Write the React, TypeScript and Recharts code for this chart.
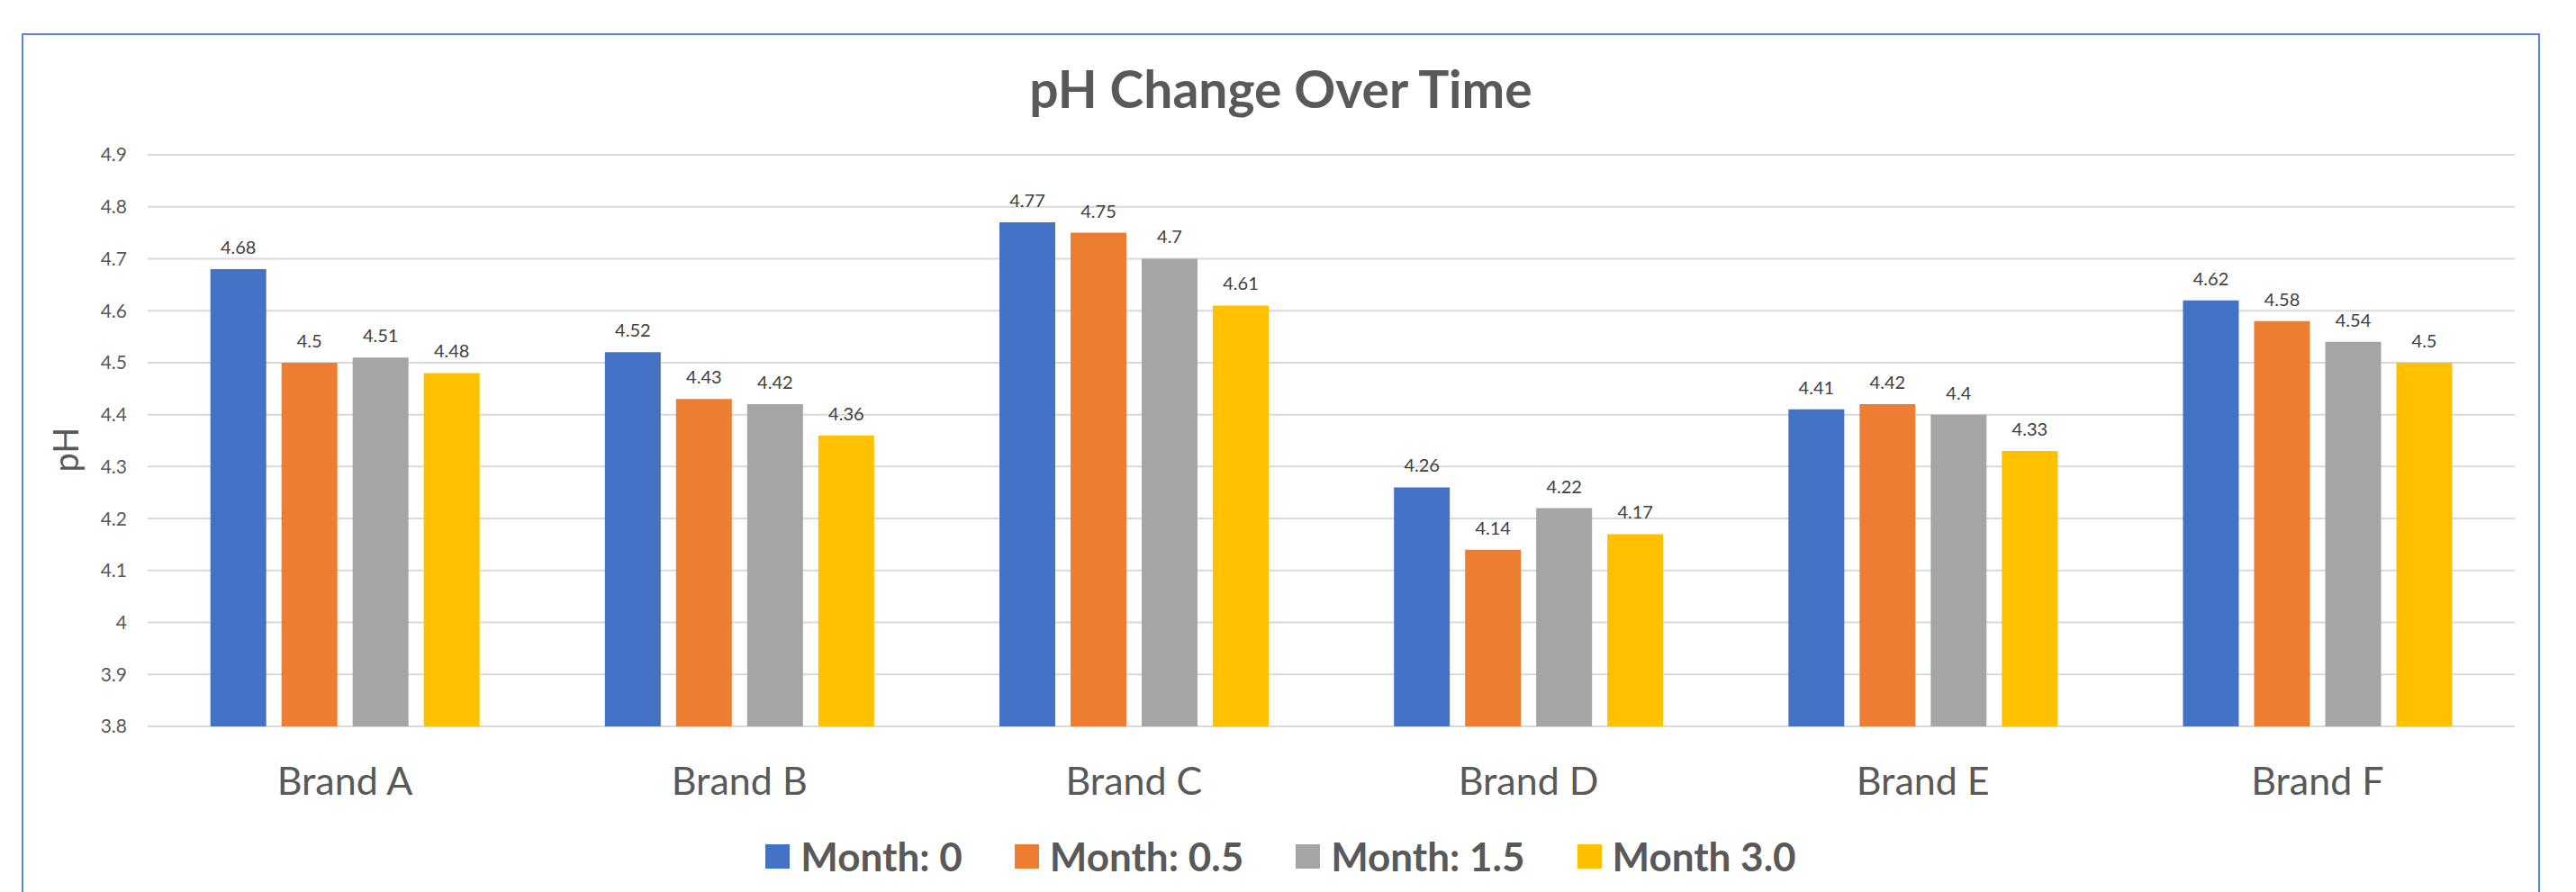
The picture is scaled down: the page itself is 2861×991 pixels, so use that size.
import { BarChart, Bar, XAxis, YAxis, CartesianGrid, LabelList } from "recharts";

const brands = ["Brand A", "Brand B", "Brand C", "Brand D", "Brand E", "Brand F"];
const month0 = [4.68, 4.52, 4.77, 4.26, 4.41, 4.62];
const month05 = [4.5, 4.43, 4.75, 4.14, 4.42, 4.58];
const month15 = [4.51, 4.42, 4.7, 4.22, 4.4, 4.54];
const month30 = [4.48, 4.36, 4.61, 4.17, 4.33, 4.5];
const yTicks = [3.8, 3.9, 4, 4.1, 4.2, 4.3, 4.4, 4.5, 4.6, 4.7, 4.8, 4.9];

const seriesNames = ["Month: 0", "Month: 0.5", "Month: 1.5", "Month 3.0"];
const seriesKeys = ["m0", "m05", "m15", "m30"];
const seriesColors = ["#4472C4", "#ED7D31", "#A5A5A5", "#FFC000"];

const data = brands.map((b, i) => ({
  brand: b,
  m0: month0[i],
  m05: month05[i],
  m15: month15[i],
  m30: month30[i],
}));

const font = "Lato, 'Open Sans', sans-serif";
const textColor = "#595959";

export default function App() {
  return (
    <div style={{ position: "absolute", left: 0, top: 0, width: 2861, height: 991, overflow: "hidden", background: "#fff", fontFamily: font }}>
      {/* chart frame */}
      <div style={{ position: "absolute", left: 24, top: 37, width: 2797, height: 1000, border: "2px solid #5585DC", boxSizing: "border-box" }} />

      <div style={{ position: "absolute", left: 25, top: 70, width: 2795, textAlign: "center", fontSize: 57, lineHeight: 1, fontWeight: 700, color: textColor }}>
        pH Change Over Time
      </div>

      <div style={{ position: "absolute", left: 0, top: 0 }}>
        <BarChart
          width={2861}
          height={991}
          data={data}
          margin={{ top: 172, right: 68, bottom: 0, left: 0 }}
          barCategoryGap="15.9%"
          barGap={17}
          style={{ fontFamily: font }}
        >
          <CartesianGrid horizontal vertical={false} stroke="#D9D9D9" strokeWidth={2} />
          <XAxis
            dataKey="brand"
            height={184}
            axisLine={false}
            tickLine={false}
            tickSize={0}
            tickMargin={45}
            tick={{ fontSize: 43, fill: textColor, fontFamily: font }}
          />
          <YAxis
            width={164}
            domain={[3.8, 4.9]}
            ticks={yTicks}
            interval={0}
            axisLine={false}
            tickLine={false}
            tickSize={0}
            tickMargin={23}
            tick={{ fontSize: 21, fill: textColor, fontFamily: font }}
            label={({ viewBox }: any) => (
              <text
                x={72}
                y={viewBox.y + viewBox.height / 2 + 10}
                transform={`rotate(-90, 72, ${viewBox.y + viewBox.height / 2 + 10})`}
                textAnchor="middle"
                dominantBaseline="central"
                fontSize={38}
                fill={textColor}
                fontFamily={font}
              >
                pH
              </text>
            )}
          />
          {seriesKeys.map((k, i) => (
            <Bar key={k} dataKey={k} name={seriesNames[i]} fill={seriesColors[i]} isAnimationActive={false}>
              <LabelList dataKey={k} position="top" offset={17} fontSize={20} fill="#404040" fontFamily={font} />
            </Bar>
          ))}
        </BarChart>
      </div>

      {/* legend */}
      <div style={{ position: "absolute", left: 25, top: 929, width: 2795, display: "flex", justifyContent: "center", alignItems: "center" }}>
        {seriesNames.map((n, i) => (
          <div key={n} style={{ display: "flex", alignItems: "center", marginLeft: i === 0 ? 0 : 58 }}>
            <div style={{ width: 27, height: 27, background: seriesColors[i], marginRight: 12 }} />
            <span style={{ fontSize: 44, lineHeight: 1, fontWeight: 700, color: textColor }}>{n}</span>
          </div>
        ))}
      </div>
    </div>
  );
}
